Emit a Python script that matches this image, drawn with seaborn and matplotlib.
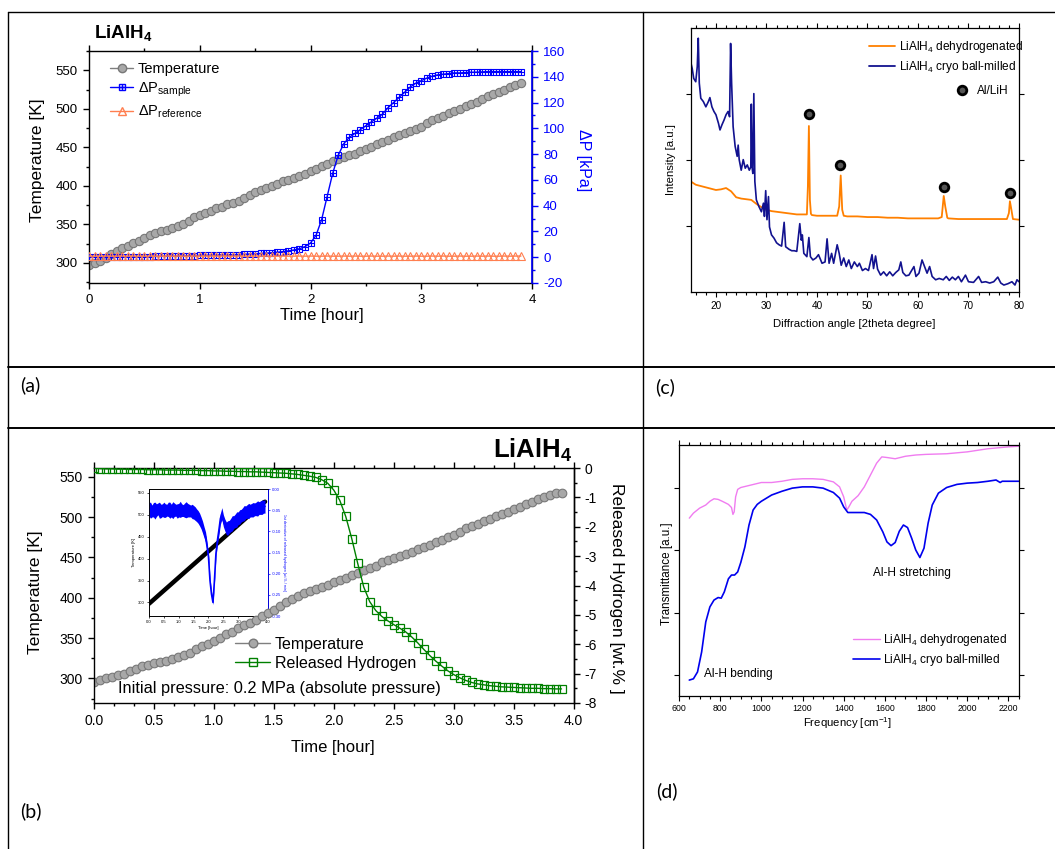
import numpy as np
import matplotlib
matplotlib.use("Agg")
import matplotlib.pyplot as plt
import seaborn as sns
from matplotlib.lines import Line2D
from matplotlib.ticker import MultipleLocator, FixedLocator, NullFormatter
from matplotlib.legend_handler import HandlerTuple

# ---------------------------------------------------------------- data
time_h = np.round(np.arange(79) * 0.05, 2)   # 0 ... 3.9 h, 3-min sampling

a_temperature = [298, 300, 303, 307, 312, 316, 319, 322, 326, 329,
                 332, 336, 339, 341, 343, 346, 348, 351, 355, 359,
                 362, 365, 368, 371, 373, 376, 378, 380, 384, 388,
                 392, 395, 397, 400, 403, 406, 408, 410, 413, 416,
                 419, 422, 426, 429, 432, 435, 438, 440, 442, 445,
                 448, 451, 454, 457, 460, 463, 466, 468, 471, 474,
                 477, 481, 485, 488, 491, 494, 497, 500, 503, 506,
                 509, 513, 516, 519, 522, 525, 528, 531, 533]
a_dp_sample = [0.0, 0.0, 0.1, 0.1, 0.1, 0.2, 0.2, 0.3, 0.3, 0.4,
               0.4, 0.5, 0.6, 0.7, 0.8, 0.9, 1.0, 1.1, 1.2, 1.3,
               1.4, 1.5, 1.6, 1.7, 1.8, 1.9, 2.0, 2.1, 2.3, 2.5,
               2.7, 2.9, 3.2, 3.5, 3.9, 4.3, 4.9, 5.6, 6.6, 8.2,
               11, 17, 29, 47, 65, 79, 88, 93, 96, 99,
               102, 105, 108, 111, 116, 120, 124, 128, 132, 135,
               137, 139, 140.5, 141.5, 142, 142.5, 143, 143, 143.3, 143.5,
               143.6, 143.8, 144, 144, 144, 144, 144, 144, 144]
a_dp_reference = [0.9, 0.8, 0.8, 0.9, 0.8, 0.8, 0.9, 0.8, 0.9, 0.8,
                  0.8, 0.9, 0.8, 0.8, 0.9, 0.8, 0.9, 0.8, 0.8, 0.9,
                  0.8, 0.8, 0.9, 0.8, 0.9, 0.8, 0.8, 0.9, 0.8, 0.8,
                  0.9, 0.8, 0.9, 0.8, 0.8, 0.9, 0.8, 0.8, 0.9, 0.8,
                  0.9, 0.8, 0.8, 0.9, 0.8, 0.8, 0.9, 0.8, 0.9, 0.8,
                  0.8, 0.9, 0.8, 0.8, 0.9, 0.8, 0.9, 0.8, 0.8, 0.9,
                  0.8, 0.8, 0.9, 0.8, 0.9, 0.8, 0.8, 0.9, 0.8, 0.8,
                  0.9, 0.8, 0.9, 0.8, 0.8, 0.9, 0.8, 0.9, 0.9]

b_temperature = [296, 298, 300, 302, 304, 306, 309, 312, 315, 317,
                 319, 320, 322, 324, 327, 329, 332, 336, 340, 343,
                 346, 350, 355, 358, 362, 366, 369, 372, 377, 381,
                 385, 390, 395, 398, 402, 406, 409, 411, 414, 416,
                 419, 422, 425, 428, 431, 434, 437, 440, 444, 447,
                 449, 452, 454, 457, 460, 463, 466, 469, 472, 475,
                 478, 482, 486, 489, 492, 495, 498, 501, 504, 507,
                 510, 513, 516, 519, 522, 525, 528, 530, 530]
b_released_h2 = [0.00, -0.02, -0.03, -0.03, -0.04, -0.04, -0.05, -0.05, -0.05, -0.06,
                 -0.06, -0.06, -0.07, -0.07, -0.07, -0.08, -0.08, -0.08, -0.09, -0.09,
                 -0.10, -0.10, -0.11, -0.11, -0.12, -0.12, -0.13, -0.13, -0.14, -0.15,
                 -0.16, -0.17, -0.18, -0.20, -0.22, -0.25, -0.28, -0.32, -0.40, -0.52,
                 -0.75, -1.10, -1.65, -2.40, -3.25, -4.05, -4.55, -4.85, -5.05, -5.20,
                 -5.33, -5.45, -5.58, -5.75, -5.95, -6.17, -6.38, -6.57, -6.74, -6.90,
                 -7.03, -7.14, -7.23, -7.30, -7.35, -7.38, -7.41, -7.43, -7.45, -7.46,
                 -7.47, -7.48, -7.49, -7.50, -7.50, -7.51, -7.51, -7.52, -7.52]
inset_temperature = [297, 300, 303, 306, 309, 312, 315, 318, 321, 324,
                     327, 330, 333, 336, 339, 342, 345, 348, 351, 354,
                     357, 360, 363, 366, 369, 372, 375, 378, 381, 384,
                     387, 390, 393, 396, 399, 402, 405, 408, 411, 414,
                     417, 420, 423, 426, 429, 432, 435, 438, 441, 444,
                     447, 450, 453, 456, 459, 462, 465, 468, 471, 474,
                     477, 480, 483, 486, 489, 492, 495, 498, 501, 504,
                     507, 510, 513, 516, 519, 522, 525, 528, 530]
inset_rate = [-0.048, -0.050, -0.052, -0.049, -0.051, -0.050, -0.047, -0.050, -0.052, -0.050,
              -0.049, -0.051, -0.050, -0.048, -0.050, -0.051, -0.050, -0.049, -0.050, -0.052,
              -0.050, -0.048, -0.050, -0.051, -0.050, -0.049, -0.050, -0.051, -0.052, -0.053,
              -0.055, -0.058, -0.062, -0.066, -0.072, -0.080, -0.090, -0.102, -0.113, -0.135,
              -0.161, -0.216, -0.248, -0.268, -0.216, -0.153, -0.121, -0.097, -0.070, -0.058,
              -0.075, -0.085, -0.093, -0.092, -0.089, -0.085, -0.081, -0.078, -0.075, -0.072,
              -0.069, -0.066, -0.063, -0.060, -0.057, -0.055, -0.053, -0.052, -0.051, -0.050,
              -0.049, -0.048, -0.047, -0.046, -0.045, -0.044, -0.043, -0.042, -0.041]
inset_rate_spread = [0.016, 0.019, 0.014, 0.017, 0.020, 0.015, 0.014, 0.019, 0.016, 0.015,
                     0.018, 0.016, 0.014, 0.017, 0.019, 0.015, 0.020, 0.016, 0.014, 0.017,
                     0.016, 0.019, 0.015, 0.014, 0.017, 0.019, 0.016, 0.015, 0.014, 0.017,
                     0.016, 0.016, 0.015, 0.015, 0.015, 0.014, 0.014, 0.013, 0.012, 0.011,
                     0.010, 0.008, 0.006, 0.005, 0.006, 0.008, 0.010, 0.012, 0.013, 0.014,
                     0.014, 0.014, 0.015, 0.017, 0.015, 0.016, 0.018, 0.015, 0.016, 0.018,
                     0.015, 0.017, 0.015, 0.016, 0.018, 0.015, 0.016, 0.018, 0.015, 0.016,
                     0.017, 0.015, 0.016, 0.018, 0.015, 0.016, 0.017, 0.015, 0.016]

xrd_2theta_dehyd = [15, 16, 17, 18, 19, 20, 21, 22, 23, 24,
                    25, 26, 27, 28, 29, 30, 31, 32, 33, 34,
                    35, 36, 37, 38.0, 38.2, 38.4, 38.6, 38.8, 39, 40,
                    41, 42, 43, 44.0, 44.4, 44.7, 45.0, 45.3, 46, 48,
                    50, 52, 54, 56, 58, 60, 62, 64, 64.7, 65.1,
                    65.4, 65.8, 66, 68, 70, 72, 74, 76, 77.6, 78.0,
                    78.2, 78.5, 78.8, 80]
xrd_int_dehyd = [1.68, 1.63, 1.61, 1.59, 1.57, 1.55, 1.56, 1.58, 1.53, 1.44,
                 1.42, 1.41, 1.40, 1.34, 1.29, 1.25, 1.23, 1.22, 1.21, 1.20,
                 1.19, 1.18, 1.18, 1.18, 1.6, 2.52, 1.4, 1.19, 1.17, 1.16,
                 1.16, 1.16, 1.16, 1.16, 1.3, 1.77, 1.25, 1.16, 1.15, 1.15,
                 1.14, 1.14, 1.13, 1.13, 1.12, 1.12, 1.12, 1.12, 1.14, 1.46,
                 1.3, 1.13, 1.12, 1.11, 1.11, 1.11, 1.11, 1.11, 1.11, 1.2,
                 1.38, 1.25, 1.11, 1.10]
xrd_2theta_milled = [15.0, 15.3, 15.6, 16.0, 16.3, 16.5, 16.7, 17.0, 17.5, 18.0,
                     18.5, 18.8, 19.2, 19.6, 20.0, 20.5, 20.8, 21.2, 21.6, 22.0,
                     22.4, 22.7, 22.9, 23.1, 23.4, 23.8, 24.2, 24.4, 24.6, 25.0,
                     25.4, 25.8, 26.2, 26.6, 26.9, 27.0, 27.15, 27.3, 27.5, 27.7,
                     28.0, 28.5, 29.0, 29.4, 29.6, 29.85, 30.1, 30.4, 30.6, 31.0,
                     31.5, 32.0, 32.5, 33.0, 33.5, 33.8, 34.5, 35.0, 35.5, 36.0,
                     36.6, 36.9, 37.1, 37.4, 38.0, 38.4, 38.7, 39.2, 39.8, 40.3,
                     41.0, 41.6, 42.0, 42.4, 42.9, 43.3, 44.0, 44.4, 44.8, 45.3,
                     45.8, 46.3, 46.8, 47.4, 48.0, 48.4, 49.0, 49.6, 50.2, 50.9,
                     51.2, 51.6, 52.0, 52.6, 53.2, 53.8, 54.4, 55.0, 55.6, 56.2,
                     56.6, 57.0, 57.6, 58.2, 59.2, 59.6, 60.2, 60.8, 61.3, 61.8,
                     62.3, 62.8, 63.5, 64.2, 65.0, 65.6, 66.2, 66.8, 67.4, 68.0,
                     68.6, 69.4, 70.0, 71.0, 72.0, 72.6, 73.4, 74.2, 75.0, 75.8,
                     76.4, 77.0, 77.8, 78.6, 79.2, 79.6, 80.0]
xrd_int_milled = [3.49, 3.39, 3.24, 3.19, 3.42, 3.85, 3.17, 2.94, 2.89, 2.81,
                  2.89, 2.95, 2.81, 2.74, 2.69, 2.56, 2.46, 2.54, 2.61, 2.69,
                  2.74, 2.66, 3.77, 3.17, 2.51, 2.21, 2.06, 2.23, 2.01, 1.85,
                  2.01, 1.88, 1.93, 1.85, 1.90, 2.85, 1.90, 1.80, 3.01, 1.68,
                  1.40, 1.30, 1.22, 1.35, 1.15, 1.54, 1.10, 1.45, 0.99, 0.87,
                  0.82, 0.75, 0.72, 0.70, 1.06, 0.69, 0.65, 0.63, 0.63, 0.62,
                  1.04, 0.79, 0.87, 0.59, 0.54, 0.83, 0.54, 0.49, 0.52, 0.57,
                  0.44, 0.46, 0.81, 0.44, 0.59, 0.44, 0.72, 0.59, 0.41, 0.52,
                  0.39, 0.49, 0.36, 0.46, 0.39, 0.44, 0.33, 0.36, 0.33, 0.57,
                  0.36, 0.55, 0.35, 0.26, 0.31, 0.25, 0.31, 0.25, 0.30, 0.34,
                  0.46, 0.30, 0.25, 0.26, 0.39, 0.24, 0.29, 0.49, 0.39, 0.29,
                  0.39, 0.24, 0.19, 0.21, 0.19, 0.24, 0.18, 0.23, 0.19, 0.24,
                  0.16, 0.26, 0.16, 0.15, 0.24, 0.15, 0.16, 0.14, 0.16, 0.23,
                  0.14, 0.11, 0.13, 0.16, 0.11, 0.19, 0.16]
al_lih_2theta = [38.5, 44.6, 65.1, 78.3]
al_lih_mark = [2.70, 1.93, 1.59, 1.51]

ftir_wn_dehyd = [650, 670, 700, 730, 750, 770, 790, 810, 840, 855,
                 862, 868, 875, 885, 900, 950, 1000, 1050, 1100, 1150,
                 1200, 1250, 1300, 1350, 1380, 1400, 1415, 1425, 1440, 1470,
                 1500, 1530, 1560, 1585, 1610, 1650, 1700, 1750, 1800, 1900,
                 2000, 2100, 2200, 2250]
ftir_tr_dehyd = [2.51, 2.59, 2.67, 2.72, 2.78, 2.82, 2.81, 2.78, 2.73, 2.68,
                 2.57, 2.61, 2.85, 2.97, 3.00, 3.04, 3.08, 3.08, 3.10, 3.13,
                 3.14, 3.14, 3.13, 3.09, 3.01, 2.85, 2.64, 2.69, 2.78, 2.87,
                 3.01, 3.20, 3.39, 3.49, 3.48, 3.46, 3.50, 3.52, 3.53, 3.54,
                 3.57, 3.62, 3.65, 3.66]
ftir_wn_milled = [650, 670, 690, 710, 730, 750, 770, 790, 805, 820,
                  840, 855, 870, 885, 900, 920, 940, 960, 980, 1000,
                  1050, 1100, 1150, 1200, 1250, 1300, 1350, 1380, 1400, 1420,
                  1450, 1500, 1530, 1560, 1590, 1610, 1630, 1650, 1670, 1690,
                  1710, 1730, 1750, 1770, 1790, 1810, 1830, 1860, 1900, 1950,
                  2000, 2050, 2100, 2140, 2160, 2170, 2200, 2250]
ftir_tr_milled = [-0.08, -0.06, 0.05, 0.37, 0.85, 1.09, 1.20, 1.24, 1.23, 1.33,
                  1.54, 1.60, 1.60, 1.65, 1.80, 2.05, 2.40, 2.64, 2.73, 2.78,
                  2.88, 2.94, 2.99, 3.01, 3.01, 2.99, 2.92, 2.83, 2.69, 2.60,
                  2.60, 2.60, 2.57, 2.48, 2.29, 2.13, 2.07, 2.12, 2.30, 2.40,
                  2.36, 2.19, 2.00, 1.88, 2.03, 2.43, 2.72, 2.91, 3.00, 3.05,
                  3.07, 3.08, 3.10, 3.12, 3.08, 3.10, 3.10, 3.10]

panel_labels = ["(a)", "(b)", "(c)", "(d)"]

# ---------------------------------------------------------------- style
sns.set_style("ticks")
plt.rcParams.update({
    "font.family": ["Liberation Sans", "DejaVu Sans"],
    "mathtext.fontset": "custom",
    "mathtext.rm": "Liberation Sans",
    "mathtext.it": "Liberation Sans:italic",
    "mathtext.bf": "Liberation Sans:bold",
    "mathtext.sf": "Liberation Sans",
    "mathtext.default": "regular",
    "axes.unicode_minus": False,
    "axes.edgecolor": "black",
    "axes.linewidth": 1.0,
    "xtick.color": "black",
    "ytick.color": "black",
    "text.color": "black",
    "axes.labelcolor": "black",
})

W, H = 1055, 849
fig = plt.figure(figsize=(W / 100, H / 100), dpi=100)


def frac(x0, y0, x1, y1):
    return [x0 / W, 1 - y1 / H, (x1 - x0) / W, (y1 - y0) / H]


def fx(x):
    return x / W


def fy(y):
    return 1 - y / H


GRAY_FC, GRAY_EC = "#a8a8a8", "#787878"

# ================================================================ panel (a)
ax_a = fig.add_axes(frac(89, 51, 532, 283))
ax_a2 = ax_a.twinx()
sns.lineplot(x=time_h, y=a_temperature, ax=ax_a, color="#7f7f7f", lw=1.0,
             marker="o", markersize=6.0, markerfacecolor=GRAY_FC,
             markeredgecolor=GRAY_EC, markeredgewidth=0.8)
sns.lineplot(x=time_h, y=a_dp_sample, ax=ax_a2, color="blue", lw=1.0,
             marker="s", markersize=5.0, markerfacecolor="none",
             markeredgecolor="blue", markeredgewidth=0.8)
ax_a2.plot(time_h, a_dp_sample, ls="none", marker="+", ms=5.0, mec="blue", mew=0.8)
sns.lineplot(x=time_h, y=a_dp_reference, ax=ax_a2, color="#ff7f50", lw=1.0,
             marker="^", markersize=6.2, markerfacecolor="none",
             markeredgecolor="#ff7f50", markeredgewidth=0.8)

ax_a.set_xlim(0, 4)
ax_a.set_ylim(274, 575)
ax_a2.set_ylim(-20, 160)
ax_a.xaxis.set_major_locator(MultipleLocator(1))
ax_a.xaxis.set_minor_locator(MultipleLocator(0.5))
ax_a.yaxis.set_major_locator(MultipleLocator(50))
ax_a.yaxis.set_minor_locator(MultipleLocator(25))
ax_a2.yaxis.set_major_locator(MultipleLocator(20))
ax_a2.yaxis.set_minor_locator(MultipleLocator(10))
ax_a.tick_params(which="both", direction="out", top=True, right=False, labelsize=9.5, width=1)
ax_a.tick_params(which="major", length=4.5)
ax_a.tick_params(which="minor", length=2.5)
ax_a2.tick_params(axis="y", which="both", direction="out", colors="blue", labelsize=9.5, width=1)
ax_a2.tick_params(axis="y", which="major", length=4.5)
ax_a2.tick_params(axis="y", which="minor", length=2.5)
ax_a2.spines["right"].set_color("blue")
ax_a2.spines["right"].set_linewidth(1.2)
for s in ("left", "top", "bottom"):
    ax_a2.spines[s].set_visible(False)

ax_a.set_xlabel("Time [hour]", fontsize=12, va="center")
ax_a.xaxis.set_label_coords(0.526, -0.138)
ax_a.set_ylabel("Temperature [K]", fontsize=12.5, va="center")
ax_a.yaxis.set_label_coords(-0.117, 0.53)
ax_a2.set_ylabel("ΔP [kPa]", fontsize=11.5, color="blue", rotation=270, va="center")
ax_a2.yaxis.set_label_coords(1.117, 0.53)

fig.text(fx(94), fy(38), r"LiAlH$_\mathbf{4}$", fontsize=13.5, fontweight="bold", va="baseline")

h_temp = Line2D([], [], color="#7f7f7f", lw=1, marker="o", ms=6.0, mfc=GRAY_FC, mec=GRAY_EC)
h_sq = Line2D([], [], color="blue", lw=1, marker="s", ms=5.0, mfc="none", mec="blue")
h_plus = Line2D([], [], ls="none", marker="+", ms=5.0, mec="blue")
h_ref = Line2D([], [], color="#ff7f50", lw=1, marker="^", ms=6.2, mfc="none", mec="#ff7f50")
ax_a2.legend([h_temp, (h_sq, h_plus), h_ref],
             ["Temperature", r"ΔP$_{\mathrm{sample}}$", r"ΔP$_{\mathrm{reference}}$"],
             handler_map={tuple: HandlerTuple(ndivide=1, pad=0)},
             loc="upper left", bbox_to_anchor=(fx(110), fy(62)), bbox_transform=fig.transFigure,
             frameon=False, fontsize=10.5, handlelength=1.6, handletextpad=0.3,
             labelspacing=0.32, borderpad=0, borderaxespad=0)

# ================================================================ panel (b)
ax_b = fig.add_axes(frac(94, 468, 573.5, 703))
ax_b.patch.set_visible(False)
ax_b.set_zorder(1)
ax_b2 = ax_b.twinx()
ax_b2.set_zorder(2)
sns.lineplot(x=time_h, y=b_temperature, ax=ax_b, color="#7f7f7f", lw=1.0,
             marker="o", markersize=6.2, markerfacecolor=GRAY_FC,
             markeredgecolor=GRAY_EC, markeredgewidth=0.8)
sns.lineplot(x=time_h, y=b_released_h2, ax=ax_b2, color="#008000", lw=1.0,
             marker="s", markersize=5.6, markerfacecolor="none",
             markeredgecolor="#008000", markeredgewidth=0.9)
ax_b.set_xlim(0, 4)
ax_b.set_ylim(269.5, 561)
ax_b2.set_ylim(-8, 0)
ax_b.xaxis.set_major_locator(MultipleLocator(0.5))
ax_b.xaxis.set_minor_locator(MultipleLocator(0.5 / 3))
ax_b.yaxis.set_major_locator(MultipleLocator(50))
ax_b.yaxis.set_minor_locator(MultipleLocator(25))
ax_b2.yaxis.set_major_locator(MultipleLocator(1))
ax_b2.yaxis.set_minor_locator(MultipleLocator(0.5))
ax_b.xaxis.set_major_formatter(matplotlib.ticker.FormatStrFormatter("%.1f"))
ax_b.tick_params(which="both", direction="out", top=True, right=False, labelsize=10, width=1)
ax_b.tick_params(which="major", length=4.5)
ax_b.tick_params(which="minor", length=2.5)
ax_b2.tick_params(axis="y", which="both", direction="out", labelsize=10, width=1)
ax_b2.tick_params(axis="y", which="major", length=4.5)
ax_b2.tick_params(axis="y", which="minor", length=2.5)
for s in ("left", "top", "bottom"):
    ax_b2.spines[s].set_visible(False)
ax_b.set_xlabel("Time [hour]", fontsize=12, va="center")
ax_b.xaxis.set_label_coords(0.498, -0.191)
ax_b.set_ylabel("Temperature [K]", fontsize=12.5, va="center")
ax_b.yaxis.set_label_coords(-0.123, 0.472)
ax_b2.set_ylabel("Released Hydrogen [wt.% ]", fontsize=12.5, rotation=270, va="center")
ax_b2.yaxis.set_label_coords(1.089, 0.489)

fig.text(fx(572), fy(458), r"LiAlH$_\mathbf{4}$", fontsize=18.5, fontweight="bold",
         ha="right", va="baseline")
fig.text(fx(118), fy(688), "Initial pressure: 0.2 MPa (absolute pressure)", fontsize=11.8,
         va="center")

hb_temp = Line2D([], [], color="#7f7f7f", lw=1, marker="o", ms=6.2, mfc=GRAY_FC, mec=GRAY_EC)
hb_h2 = Line2D([], [], color="#008000", lw=1, marker="s", ms=5.6, mfc="none", mec="#008000")
ax_b2.legend([hb_temp, hb_h2], ["Temperature", "Released Hydrogen"],
             loc="upper left", bbox_to_anchor=(fx(235), fy(637)), bbox_transform=fig.transFigure,
             frameon=False, fontsize=11.5, handlelength=2.2, handletextpad=0.3,
             labelspacing=0.25, borderpad=0, borderaxespad=0)

# inset of (b)
ax_in = fig.add_axes(frac(149, 489, 268, 616))
ax_in.set_zorder(0.5)
ax_in2 = ax_in.twinx()
ax_in2.set_zorder(0.6)
sns.lineplot(x=time_h, y=inset_temperature, ax=ax_in, color="black", lw=3.2)
rate = np.array(inset_rate)
spread = np.array(inset_rate_spread)
ax_in2.fill_between(time_h, rate - spread, rate + spread, color="blue", lw=0)
sns.lineplot(x=time_h, y=inset_rate, ax=ax_in2, color="blue", lw=1.2)
ax_in.set_xlim(0, 4)
ax_in.set_ylim(269, 559)
ax_in2.set_ylim(-0.30, 0.0)
ax_in.xaxis.set_major_locator(MultipleLocator(0.5))
ax_in.xaxis.set_major_formatter(matplotlib.ticker.FormatStrFormatter("%.1f"))
ax_in.yaxis.set_major_locator(MultipleLocator(50))
ax_in2.yaxis.set_major_locator(MultipleLocator(0.05))
ax_in2.yaxis.set_major_formatter(matplotlib.ticker.FormatStrFormatter("%.2f"))
ax_in.tick_params(which="both", direction="out", length=1.5, width=0.5, labelsize=3, pad=1.5)
ax_in2.tick_params(axis="y", direction="out", length=1.5, width=0.5, labelsize=3, pad=1.5,
                   colors="blue")
ax_in2.spines["right"].set_color("blue")
for ax_ in (ax_in, ax_in2):
    for s in ax_.spines.values():
        s.set_linewidth(0.6)
ax_in.set_xlabel("Time [hour]", fontsize=3, labelpad=1.5)
ax_in.set_ylabel("Temperature [K]", fontsize=3, labelpad=1.5)
ax_in2.set_ylabel("1st derivative of released hydrogen [wt.% / min]", fontsize=2.6,
                  color="blue", rotation=270, labelpad=3)

# ================================================================ panel (c)
ax_c = fig.add_axes(frac(690.7, 28.3, 1019, 292.3))
sns.lineplot(x=xrd_2theta_dehyd, y=xrd_int_dehyd, ax=ax_c, color="#ff8000", lw=1.3)
sns.lineplot(x=xrd_2theta_milled, y=xrd_int_milled, ax=ax_c, color="#12128f", lw=1.2)
ax_c.plot(al_lih_2theta, al_lih_mark, ls="none", marker="o", ms=6.2, mfc="#555555",
          mec="black", mew=2.0)
ax_c.set_xlim(15, 80)
ax_c.set_ylim(0, 4)
ax_c.xaxis.set_major_locator(MultipleLocator(10))
ax_c.xaxis.set_minor_locator(MultipleLocator(2))
ax_c.yaxis.set_major_locator(FixedLocator([1, 2, 3]))
ax_c.yaxis.set_major_formatter(NullFormatter())
ax_c.tick_params(which="both", direction="out", top=True, right=True, labelsize=7.2,
                 width=0.8, pad=2.5)
ax_c.tick_params(which="major", length=3.5)
ax_c.tick_params(which="minor", length=2)
for s in ax_c.spines.values():
    s.set_linewidth(0.9)
ax_c.set_xlabel("Diffraction angle [2theta degree]", fontsize=8.2, va="center")
ax_c.xaxis.set_label_coords(0.4995, -0.120)
ax_c.set_ylabel("Intensity [a.u.]", fontsize=8.2, va="center")
ax_c.yaxis.set_label_coords(-0.0615, 0.504)

hc1 = Line2D([], [], color="#ff8000", lw=1.3)
hc2 = Line2D([], [], color="#12128f", lw=1.3)
leg_c = ax_c.legend([hc1, hc2], [r"LiAlH$_4$ dehydrogenated", r"LiAlH$_4$ cryo ball-milled"],
                    loc="upper left", bbox_to_anchor=(fx(869), fy(39)),
                    bbox_transform=fig.transFigure, frameon=False, fontsize=8.6,
                    handlelength=2.2, handletextpad=0.3, labelspacing=0.35,
                    borderpad=0, borderaxespad=0)
ax_c.add_artist(leg_c)
hc3 = Line2D([], [], ls="none", marker="o", ms=6.2, mfc="#555555", mec="black", mew=2.0)
ax_c.legend([hc3], ["Al/LiH"], loc="upper left", bbox_to_anchor=(fx(955), fy(85)),
            bbox_transform=fig.transFigure, frameon=False, fontsize=8.6,
            handlelength=1.2, handletextpad=0.6, borderpad=0, borderaxespad=0)

# ================================================================ panel (d)
ax_d = fig.add_axes(frac(679, 445, 1018.7, 695.7))
sns.lineplot(x=ftir_wn_dehyd, y=ftir_tr_dehyd, ax=ax_d, color="#f07cf0", lw=1.0)
sns.lineplot(x=ftir_wn_milled, y=ftir_tr_milled, ax=ax_d, color="#0000ee", lw=1.2)
ax_d.set_xlim(600, 2250)
ax_d.set_ylim(-0.33, 3.68)
ax_d.xaxis.set_major_locator(MultipleLocator(200))
ax_d.xaxis.set_minor_locator(MultipleLocator(50))
ax_d.yaxis.set_major_locator(FixedLocator([0, 1, 2, 3]))
ax_d.yaxis.set_major_formatter(NullFormatter())
ax_d.tick_params(which="both", direction="out", top=True, right=True, labelsize=6.3,
                 width=0.8, pad=2.5)
ax_d.tick_params(which="major", length=3.5)
ax_d.tick_params(which="minor", length=2)
for s in ax_d.spines.values():
    s.set_linewidth(0.9)
ax_d.set_xlabel(r"Frequency [cm$^{-1}$]", fontsize=8.2, va="center")
ax_d.xaxis.set_label_coords(0.4975, -0.109)
ax_d.set_ylabel("Transmittance [a.u.]", fontsize=8.4, va="center")
ax_d.yaxis.set_label_coords(-0.0347, 0.488)
ax_d.text(1730, 1.63, "Al-H stretching", fontsize=8.6, ha="center", va="center")
ax_d.text(890, 0.01, "Al-H bending", fontsize=8.6, ha="center", va="center")
hd1 = Line2D([], [], color="#f07cf0", lw=1.0)
hd2 = Line2D([], [], color="#0000ee", lw=1.2)
ax_d.legend([hd1, hd2], [r"LiAlH$_4$ dehydrogenated", r"LiAlH$_4$ cryo ball-milled"],
            loc="upper left", bbox_to_anchor=(fx(853), fy(632)),
            bbox_transform=fig.transFigure, frameon=False, fontsize=8.6,
            handlelength=2.3, handletextpad=0.25, labelspacing=0.33,
            borderpad=0, borderaxespad=0)

# ================================================================ table frame + labels
def hline(y, x0, x1, lw):
    fig.add_artist(Line2D([fx(x0), fx(x1)], [fy(y), fy(y)], color="black", lw=lw))


def vline(x, y0, y1, lw):
    fig.add_artist(Line2D([fx(x), fx(x)], [fy(y0), fy(y1)], color="black", lw=lw))


hline(12, 7.5, W, 1.0)
hline(367, 7.5, W, 1.4)
hline(428, 7.5, W, 1.4)
vline(7.5, 12, H, 1.0)
vline(643, 12, H, 1.0)

label_pos = [(20, 385), (20, 811), (655, 387), (656, 791)]
for lab, (lx, ly) in zip(panel_labels, label_pos):
    fig.text(fx(lx), fy(ly), lab, fontsize=14, family=["Lato", "DejaVu Sans"], va="center")

fig.savefig("out.png", dpi=100)
